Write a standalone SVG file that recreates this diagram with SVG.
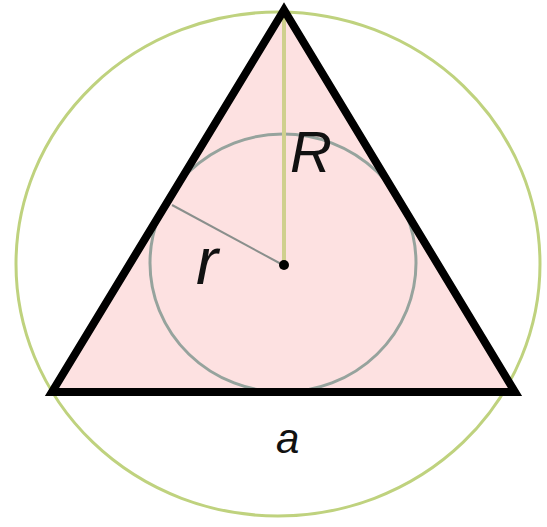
<svg xmlns="http://www.w3.org/2000/svg" width="547" height="527" viewBox="0 0 547 527">
<style>
.lbl{font-family:"Liberation Sans",Arial,sans-serif;font-style:italic;fill:#111}
</style>
<rect width="547" height="527" fill="#ffffff"/>
<g id="circumcircle"><ellipse cx="278" cy="264" rx="262" ry="252" fill="none" stroke="#bfd27e" stroke-width="3"/></g>
<g id="triangle-fill"><polygon points="284,10 52,392 515,392" fill="#fde1e1"/></g>
<g id="incircle"><ellipse cx="283" cy="263" rx="133" ry="129" fill="#fde1e1" stroke="#96a39d" stroke-width="3"/></g>
<g id="connectors">
<line x1="284" y1="12" x2="284" y2="265" stroke="#cfd08e" stroke-width="4"/>
<line x1="283" y1="265" x2="172" y2="205" stroke="#8a8f8c" stroke-width="2"/>
</g>
<g id="triangle"><polygon points="284,10 52,392 515,392" fill="none" stroke="#000" stroke-width="8" stroke-linejoin="miter"/></g>
<g id="center"><circle cx="284" cy="265" r="5" fill="#000"/></g>
<g id="labels">
<text class="lbl" x="290" y="172" font-size="58">R</text>
<text class="lbl" x="196" y="284" font-size="66">r</text>
<text class="lbl" x="276" y="453" font-size="42">a</text>
</g>
</svg>
